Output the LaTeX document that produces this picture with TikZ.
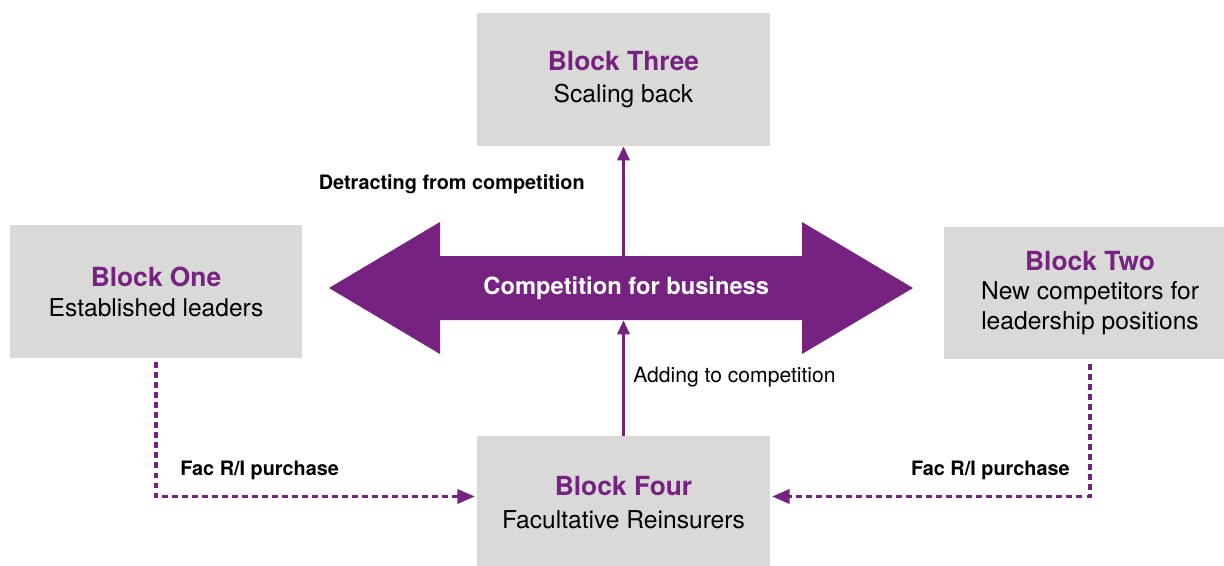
\documentclass[tikz,border=0pt]{standalone}
\usepackage{fontspec}
\setmainfont{TeX Gyre Heros}
\usetikzlibrary{arrows.meta}
\definecolor{vio}{RGB}{118,34,128}
\definecolor{boxgray}{RGB}{217,217,216}
\newcommand\blocktitle[1]{{\fontsize{15}{17}\selectfont\bfseries\color{vio}#1}}

\begin{document}
\begin{tikzpicture}[x=0.02cm,y=-0.02cm,
    block/.style={fill=boxgray, inner sep=0pt, align=center,
      font=\fontsize{14}{17}\selectfont},
    flow/.style={vio, line width=1.5pt, -{Triangle[length=8pt,width=7pt]}},
    fac/.style={vio, line width=2pt, dash pattern=on 3.4pt off 2.3pt,
      -{Triangle[length=10pt,width=8pt]}, shorten >=1pt},
    lab/.style={inner sep=0pt, font=\fontsize{11.3}{13}\selectfont\bfseries}]
  \useasboundingbox (0,0) rectangle (1224,565);

  % the four blocks
  \node[block, minimum width=5.86cm, minimum height=2.66cm] (b3) at (623.5,79.5)
    {\blocktitle{Block Three}\\[1pt]Scaling back};
  \node[block, minimum width=5.84cm, minimum height=2.66cm] (b1) at (156,291.5)
    {\blocktitle{Block One}\\Established leaders};
  \node[block, minimum width=5.84cm, minimum height=2.66cm] (b2) at (1090,293)
    {\blocktitle{Block Two}\\New competitors for\\leadership positions};
  \node[block, minimum width=5.86cm, minimum height=2.66cm] (b4) at (623.5,502.5)
    {\blocktitle{Block Four}\\[2pt]Facultative Reinsurers};

  % double arrow
  \fill[vio] (329,288) -- (440,222) -- (440,256) -- (802,256) -- (802,222)
    -- (913,288) -- (802,354) -- (802,320) -- (440,320) -- (440,354) -- cycle;
  \node[fill=vio, inner sep=0pt, minimum width=7.24cm, minimum height=1.28cm,
    text=white, font=\fontsize{13.5}{16}\selectfont\bfseries] (comp) at (621,288)
    {\hspace{6pt}Competition for business};

  \draw[flow] (b4.north) -- (b4.north |- comp.south);
  \draw[flow] (b3.south |- comp.north) -- (b3.south);
  \node[lab, anchor=east] (detr) at (585,184) {Detracting from competition};
  \node[anchor=west, inner sep=0pt, font=\fontsize{12}{14}\selectfont] (addc)
    at (633,377) {Adding to competition};

  % fac purchases
  \draw[fac] ([yshift=-0.08cm]b1.south) |- ([yshift=0.12cm]b4.west);
  \draw[fac] ([yshift=-0.08cm]b2.south) |- ([yshift=0.12cm]b4.east);
  \node[lab, anchor=west] (facl) at (180,470) {Fac R/I purchase};
  \node[lab, anchor=east] (facr) at (1070,470) {Fac R/I purchase};
\end{tikzpicture}
\end{document}
